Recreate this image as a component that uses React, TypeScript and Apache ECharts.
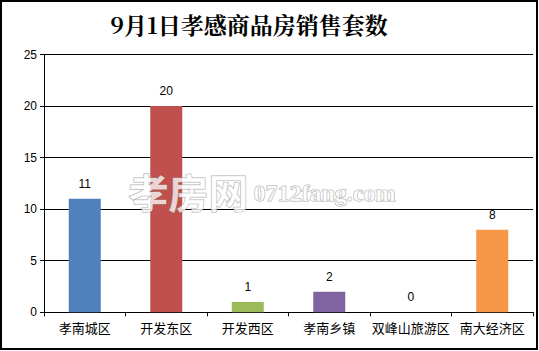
import React, { useEffect, useRef } from "react";
import * as echarts from "echarts";

const titleText = "9月1日孝感商品房销售套数";
const categories = ["孝南城区", "开发东区", "开发西区", "孝南乡镇", "双峰山旅游区", "南大经济区"];
const values = [11, 20, 1, 2, 0, 8];
const barColors = ["#4F81BD", "#C0504D", "#9BBB59", "#8064A2", "#4BACC6", "#F79646"];
const yTicks = [0, 5, 10, 15, 20, 25];

export default function App() {
  const ref = useRef<HTMLDivElement>(null);
  useEffect(() => {
    document.body.style.margin = "0";
    const chart = echarts.init(ref.current!, null, { renderer: "svg" });
    chart.setOption({
      animation: false,
      backgroundColor: "#ffffff",
      title: {
        text: titleText,
        left: 244,
        textAlign: "center",
        top: 8,
        textStyle: {
          fontFamily: "'Noto Serif CJK SC', 'Noto Sans CJK SC', serif",
          fontWeight: "bold",
          fontSize: 23,
          color: "#000",
        },
      },
      grid: { left: 44, right: 6, top: 54.5, bottom: 38.7 },
      xAxis: {
        type: "category",
        data: categories,
        axisLine: { lineStyle: { color: "#000", width: 1 } },
        axisTick: { show: true, length: 4, alignWithLabel: false, lineStyle: { color: "#000" } },
        axisLabel: {
          interval: 0,
          color: "#000",
          fontSize: 13,
          margin: 9,
          fontFamily: "'Noto Sans CJK SC', sans-serif",
        },
      },
      yAxis: {
        type: "value",
        min: yTicks[0],
        max: yTicks[yTicks.length - 1],
        interval: 5,
        axisLine: { show: true, lineStyle: { color: "#000", width: 1 } },
        axisTick: { show: true, length: 4, lineStyle: { color: "#000" } },
        splitLine: { show: true, lineStyle: { color: "#000", width: 1 } },
        axisLabel: {
          color: "#000",
          fontSize: 12,
          margin: 7,
          fontFamily: "'Liberation Sans', Arial, sans-serif",
        },
      },
      series: [
        {
          type: "bar",
          data: values.map((v, i) => ({ value: v, itemStyle: { color: barColors[i] } })),
          barWidth: 32,
          label: {
            show: true,
            position: "top",
            distance: 9,
            color: "#000",
            fontSize: 12,
            fontFamily: "'Liberation Sans', Arial, sans-serif",
          },
        },
      ],
      graphic: [
        {
          type: "text",
          left: 128,
          top: 170,
          z: 100,
          style: {
            text: "孝房网",
            fontSize: 40,
            fontWeight: "bold",
            fontFamily: "'Noto Sans CJK SC', sans-serif",
            fill: "rgba(255,255,255,0.75)",
            stroke: "rgba(150,150,150,0.8)",
            lineWidth: 1,
          },
        },
        {
          type: "text",
          left: 253,
          top: 180,
          z: 100,
          style: {
            text: "0712fang.com",
            fontSize: 24,
            fontWeight: "bold",
            fontFamily: "'Liberation Serif', serif",
            fill: "rgba(255,255,255,0.75)",
            stroke: "rgba(150,150,150,0.8)",
            lineWidth: 1,
          },
        },
        {
          type: "rect",
          shape: { x: 1, y: 1, width: 536, height: 348 },
          style: { fill: "none", stroke: "#000", lineWidth: 2 },
          z: 100,
        },
      ],
    });
    return () => chart.dispose();
  }, []);
  return <div ref={ref} style={{ width: 539, height: 351 }} />;
}
